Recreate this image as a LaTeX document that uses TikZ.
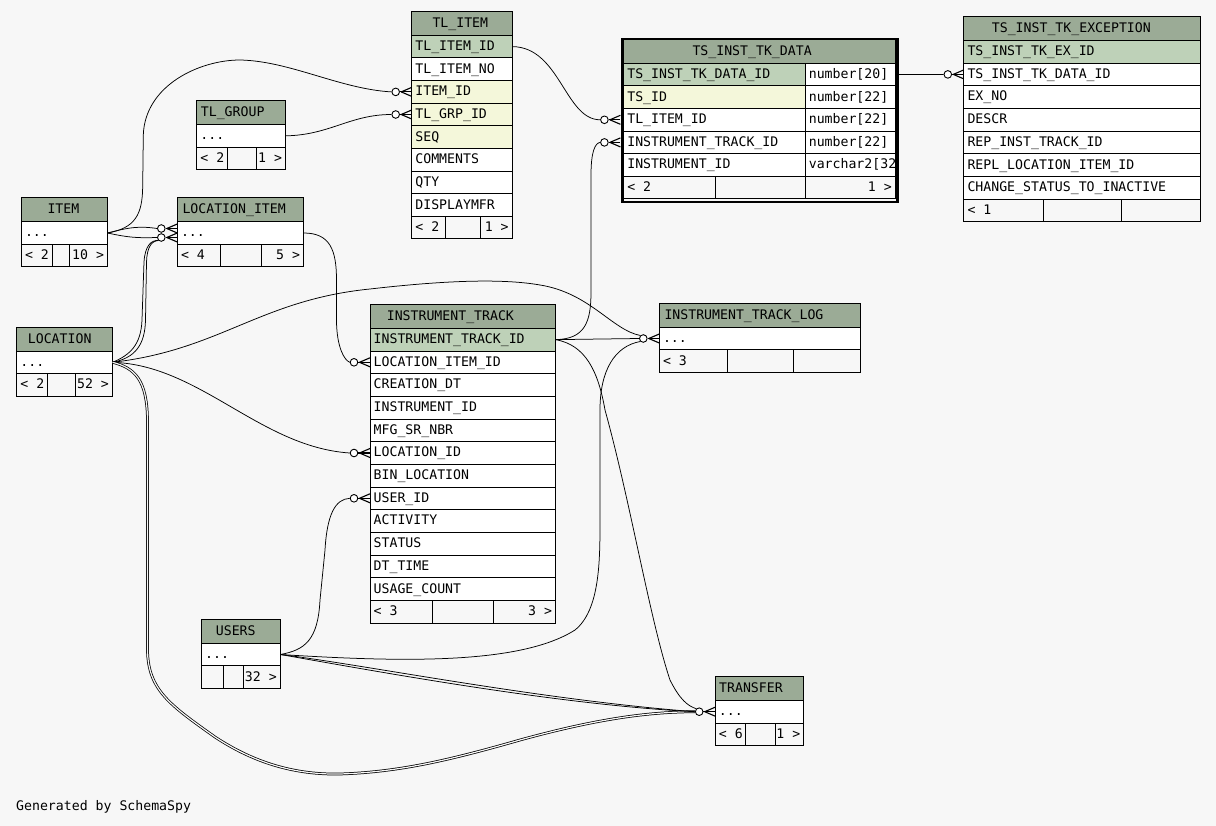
\documentclass[tikz,border=0pt]{standalone}
\usepackage{fontspec}
\newfontfamily\tblfont{DejaVu Sans Mono}
\usetikzlibrary{calc}
\definecolor{bgc}{HTML}{F7F7F7}
\definecolor{hdrc}{HTML}{9BAB96}
\definecolor{pkc}{HTML}{BED1B8}
\definecolor{fkc}{HTML}{F4F7DA}
\tikzset{
 cellbox/.style={draw=black,line width=0.9pt,anchor=north west,inner sep=0pt,outer sep=0pt},
 hdrbox/.style={cellbox,fill=hdrc},
 txt/.style={anchor=west,inner sep=0pt,font={\tblfont\fontsize{13.2pt}{15pt}\selectfont},text height=9.6pt,text depth=0pt},
 conn/.style={draw=black,line width=0.75pt},
 dconn/.style={conn,double=bgc,double distance=1.2pt},
 odot/.style={circle,draw=black,fill=white,line width=0.9pt,minimum size=7.6pt,inner sep=0pt},
 crowline/.style={draw=black,line width=1.1pt},
}
\newcommand\erdhdr[7]{%
 \node[hdrbox,minimum width={#4*1pt},minimum height={#5*1pt}] (#1) at (#2,#3) {};
 \node[txt] (#1-t) at ([xshift=#6pt,yshift=0.8pt]#1.west) {#7};}
\newcommand\erdcell[7]{%
 \node[cellbox,fill=#6,minimum width={#4*1pt},minimum height={#5*1pt}] (#1) at (#2,#3) {};
 \node[txt] (#1-t) at ([xshift=3.5pt,yshift=0.8pt]#1.west) {#7};}
\newcommand\erdrcell[7]{%
 \node[cellbox,fill=#6,minimum width={#4*1pt},minimum height={#5*1pt}] (#1) at (#2,#3) {};
 \node[txt,anchor=east] (#1-t) at ([xshift=-3.5pt,yshift=0.8pt]#1.east) {#7};}
\newcommand\erdfoot[8]{%
 \pgfmathsetmacro\erdwa{#4-#3}\pgfmathsetmacro\erdwb{#5-#4}\pgfmathsetmacro\erdwc{#6-#5}%
 \erdcell{#1-a}{#3}{#2}{\erdwa}{22.65}{bgc}{#7}%
 \erdcell{#1-b}{#4}{#2}{\erdwb}{22.65}{bgc}{}%
 \erdrcell{#1-c}{#5}{#2}{\erdwc}{22.65}{bgc}{#8}}
\newcommand\crowend[3]{%
 \node[odot] (#1) at ({#2-16},#3) {};
 \draw[crowline] (#1.east) -- (#2,#3);
 \draw[crowline] ({#2-10.5},#3) -- (#2,{#3-4.5});
 \draw[crowline] ({#2-10.5},#3) -- (#2,{#3+4.5});}
\begin{document}
\begin{tikzpicture}[x=1pt,y=-1pt]
\fill[bgc] (0,0) rectangle (1216,826);
\useasboundingbox (0,0) rectangle (1216,826);

% TL_ITEM
\erdhdr{tli}{411.7}{11.7}{100.6}{23.6}{20.6}{TL\_ITEM}
\foreach \t/\f [count=\i] in {TL\_ITEM\_ID/pkc,TL\_ITEM\_NO/white,ITEM\_ID/fkc,TL\_GRP\_ID/fkc,SEQ/fkc,COMMENTS/white,QTY/white,DISPLAYMFR/white}{\pgfmathsetmacro\yy{35.3+(\i-1)*22.63}\erdcell{tli-\i}{411.7}{\yy}{100.6}{22.63}{\f}{\t}}
\erdfoot{tlif}{216.3}{411.7}{445.7}{480}{512.3}{< 2}{1 >}

% TL_GROUP
\erdhdr{tlg}{196.7}{100.3}{89}{24.4}{4}{TL\_GROUP}
\erdcell{tlg-1}{196.7}{124.7}{89}{22.3}{white}{...}
\erdfoot{tlgf}{147}{196.7}{227.7}{256.3}{285.7}{< 2}{1 >}

% ITEM
\erdhdr{itm}{21.3}{197.3}{86.4}{24.4}{26}{ITEM}
\erdcell{itm-1}{21.3}{221.7}{86.4}{22.6}{white}{...}
\erdfoot{itmf}{244.3}{21.3}{52.3}{69.7}{107.7}{< 2}{10 >}

% LOCATION_ITEM
\erdhdr{li}{177.3}{197.3}{126.4}{24.4}{5}{LOCATION\_ITEM}
\erdcell{li-1}{177.3}{221.7}{126.4}{22.6}{white}{...}
\erdfoot{lif}{244.3}{177.3}{220.3}{261.7}{303.7}{< 4}{5 >}

% LOCATION
\erdhdr{loc}{16.7}{327.3}{95.9}{24}{11}{LOCATION}
\erdcell{loc-1}{16.7}{351.3}{95.9}{22}{white}{...}
\erdfoot{locf}{373.3}{16.7}{47.7}{75.5}{112.6}{< 2}{52 >}

% INSTRUMENT_TRACK
\erdhdr{it}{370}{304.3}{185.7}{24}{16.6}{INSTRUMENT\_TRACK}
\foreach \t/\f [count=\i] in {INSTRUMENT\_TRACK\_ID/pkc,LOCATION\_ITEM\_ID/white,CREATION\_DT/white,INSTRUMENT\_ID/white,MFG\_SR\_NBR/white,LOCATION\_ID/white,BIN\_LOCATION/white,USER\_ID/white,ACTIVITY/white,STATUS/white,DT\_TIME/white,USAGE\_COUNT/white}{\pgfmathsetmacro\yy{328.3+(\i-1)*22.67}\erdcell{it-\i}{370}{\yy}{185.7}{22.67}{\f}{\t}}
\erdfoot{itf}{600.3}{370}{432.5}{493.9}{555.7}{< 3}{3 >}

% INSTRUMENT_TRACK_LOG
\erdhdr{itl}{659.3}{303.3}{201.4}{24}{5}{INSTRUMENT\_TRACK\_LOG}
\erdcell{itl-1}{659.3}{327.3}{201.4}{22.4}{white}{...}
\erdfoot{itlf}{349.7}{659.3}{727.3}{793.7}{860.7}{< 3}{}

% USERS
\erdhdr{usr}{201.5}{619.3}{78.9}{24}{14.2}{USERS}
\erdcell{usr-1}{201.5}{643.3}{78.9}{22.4}{white}{...}
\erdfoot{usrf}{665.7}{201.5}{223.5}{243.7}{280.4}{}{32 >}

% TRANSFER
\erdhdr{tr}{715.2}{676.3}{88.7}{24}{3.8}{TRANSFER}
\erdcell{tr-1}{715.2}{700.3}{88.7}{22.7}{white}{...}
\erdfoot{trf}{723}{715.2}{745.5}{775.4}{803.9}{< 6}{1 >}

% TS_INST_TK_DATA
\node[draw=black,line width=2.4pt,anchor=north west,inner sep=0pt,minimum width=275pt,minimum height=163.2pt] (tsd-frame) at (621.2,37.6) {};
\erdhdr{tsd}{623.6}{39.3}{271.9}{24}{68.7}{TS\_INST\_TK\_DATA}
\foreach \t/\f/\ty [count=\i] in {TS\_INST\_TK\_DATA\_ID/pkc/number[20],TS\_ID/fkc/number[22],TL\_ITEM\_ID/white/number[22],INSTRUMENT\_TRACK\_ID/white/number[22]}{\pgfmathsetmacro\yy{63.3+(\i-1)*22.6}\erdcell{tsd-n\i}{623.6}{\yy}{181.5}{22.6}{\f}{\t}\erdcell{tsd-t\i}{805.1}{\yy}{90.4}{22.6}{white}{\ty}}
\erdcell{tsd-n5}{623.6}{153.7}{181.5}{22.6}{white}{INSTRUMENT\_ID}
\node[cellbox,fill=white,minimum width=90.4pt,minimum height=22.6pt] (tsd-t5) at (805.1,153.7) {};
\begin{scope}
\clip (805.1,153.7) rectangle (895.5,176.3);
\node[txt] (tsd-t5-t) at ([xshift=3.5pt,yshift=0.8pt]tsd-t5.west) {varchar2[32]};
\end{scope}
\erdfoot{tsdf}{176.3}{623.6}{715.5}{805.1}{895.5}{< 2}{1 >}

% TS_INST_TK_EXCEPTION
\erdhdr{exc}{963.8}{16}{236.6}{24.3}{27.9}{TS\_INST\_TK\_EXCEPTION}
\foreach \t/\f [count=\i] in {TS\_INST\_TK\_EX\_ID/pkc,TS\_INST\_TK\_DATA\_ID/white,EX\_NO/white,DESCR/white,REP\_INST\_TRACK\_ID/white,REPL\_LOCATION\_ITEM\_ID/white,CHANGE\_STATUS\_TO\_INACTIVE/white}{\pgfmathsetmacro\yy{40.3+(\i-1)*22.675}\erdcell{exc-\i}{963.8}{\yy}{236.6}{22.675}{\f}{\t}}
\erdfoot{excf}{199}{963.8}{1043.2}{1121.8}{1200.4}{< 1}{}

% crow's foot ends
\crowend{o-tsd3}{620.4}{119.8}
\crowend{o-tsd4}{620.4}{142.4}
\crowend{o-exc2}{963.8}{74.4}
\crowend{o-tli3}{411.7}{91.9}
\crowend{o-tli4}{411.7}{114.5}
\crowend{o-li1}{177.3}{228.5}
\crowend{o-li2}{177.3}{237.5}
\crowend{o-it2}{370}{362.3}
\crowend{o-it6}{370}{453}
\crowend{o-it8}{370}{498.3}
\crowend{o-itl}{659.3}{338.5}
\crowend{o-tr}{715.2}{711.7}

% connectors
\draw[conn] (tli-1.east) .. controls (560,47) and (565,119.8) .. (o-tsd3.west);
\draw[conn] (it-1.east) .. controls (585,339) and (591,322) .. (591,292) -- (591,175) .. controls (591,152) and (595,143) .. (o-tsd4.west);
\draw[conn] (tsd-t1.east) -- (o-exc2.west);
\draw[conn] (itm-1.east) .. controls (135,228) and (142.5,215) .. (142.7,186) -- (143.3,135) .. controls (145,85) and (200,60) .. (240,60) .. controls (290,61) and (340,89) .. (o-tli3.west);
\draw[conn] (tlg-1.east) .. controls (330,135) and (350,114.5) .. (o-tli4.west);
\draw[conn] (itm-1.east) .. controls (130,227) and (140,226) .. (o-li1.west);
\draw[conn] (itm-1.east) .. controls (130,238) and (140,238) .. (o-li2.west);
\draw[conn] (loc-1.east) .. controls (135,358) and (145,345) .. (145.5,320) -- (146.5,262) .. controls (147,248) and (151,241) .. (o-li2.south west);
\draw[conn] (loc-1.east) .. controls (130,355) and (141,345) .. (142,320) -- (144,262) .. controls (145,246) and (151,240) .. (o-li2.south west);
\draw[conn] (li-1.east) .. controls (330,233) and (336.5,250) .. (336.5,280) -- (336.5,322) .. controls (337,347) and (344,360) .. (o-it2.west);
\draw[conn] (loc-1.east) .. controls (200,365) and (260,447) .. (o-it6.west);
\draw[conn] (loc-1.east) .. controls (220,350) and (260,300) .. (370,289) .. controls (440,281) and (500,278) .. (540,285) .. controls (590,293) and (612,330) .. (o-itl.north west);
\draw[dconn] (loc-1.east) .. controls (135,368) and (147,380) .. (147.5,420) -- (147.5,650) .. controls (148,690) and (170,705) .. (215,737) .. controls (250,760) and (290,775) .. (340,774) .. controls (400,772) and (450,760) .. (520,740) .. controls (600,718) and (650,712) .. (o-tr.west);
\draw[conn] (usr-1.east) .. controls (305,650) and (318,640) .. (320,600) -- (325,550) .. controls (327,515) and (335,499) .. (o-it8.west);
\draw[conn] (usr-1.east) .. controls (400,662) and (520,665) .. (575,630) .. controls (600,610) and (600,560) .. (600,520) -- (600,410) .. controls (600,370) and (615,346) .. (o-itl.south west);
\draw[conn] (usr-1.east) .. controls (380,672) and (560,705) .. (o-tr.west);
\draw[conn] (usr-1.east) .. controls (360,664) and (540,700) .. (o-tr.west);
\draw[conn] (it-1.east) -- (o-itl.west);
\draw[conn] (it-1.east) .. controls (585,345) and (598,370) .. (605,410) .. controls (630,500) and (650,620) .. (670,680) .. controls (680,700) and (688,706) .. (o-tr.north west);

\node[txt] (gen) at (16,806) {Generated by SchemaSpy};
\end{tikzpicture}
\end{document}
